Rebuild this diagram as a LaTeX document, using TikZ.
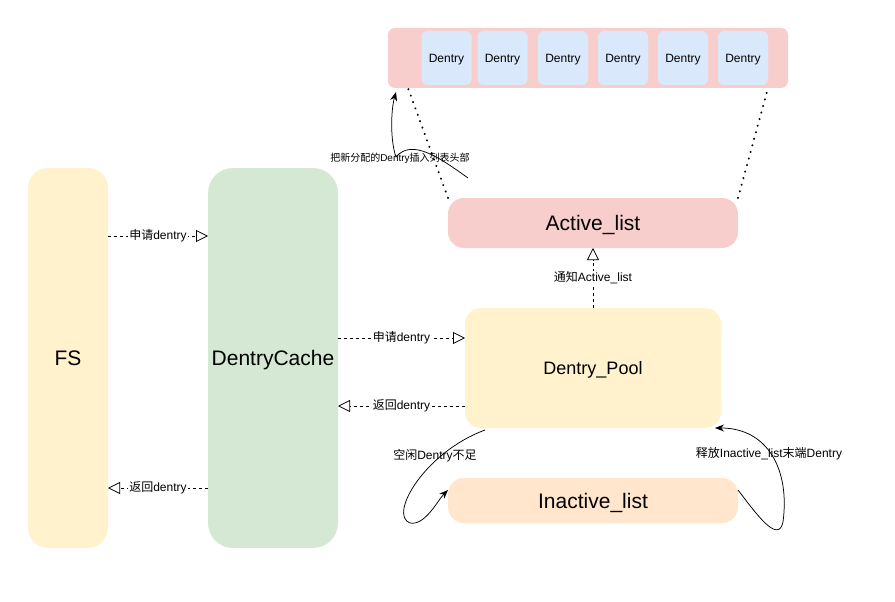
\documentclass[tikz,border=0pt]{standalone}
\usepackage{fontspec}
\setmainfont{Liberation Sans}
\newfontfamily\cjk{Noto Sans CJK SC}
\newcommand{\zh}[1]{{\cjk #1}}
\usetikzlibrary{arrows.meta}
\definecolor{redfill}{HTML}{F8CECC}
\definecolor{bluefill}{HTML}{DAE8FC}
\definecolor{yellowfill}{HTML}{FFF2CC}
\definecolor{greenfill}{HTML}{D5E8D4}
\definecolor{orangefill}{HTML}{FFE6CC}
\tikzset{
  box/.style={draw=none, inner sep=0pt, outer sep=0pt, text depth=0pt},
  bigtext/.style={font=\fontsize{21}{24}\selectfont, text height=15.5pt},
  dentrybox/.style={box, fill=bluefill, rounded corners=6pt, minimum width=50pt, minimum height=54pt, font=\fontsize{12}{14}\selectfont, text height=8.8pt},
  dasharrow/.style={draw, line width=0.75pt, dash pattern=on 3pt off 3pt, -{Triangle[open, length=12pt, width=12pt, line width=0.75pt]}},
  lbl/.style={fill=white, inner sep=1pt, font=\fontsize{12}{14}\selectfont},
  curvelbl/.style={inner sep=1pt, font=\fontsize{12}{14}\selectfont},
  curvearrow/.style={draw, line width=0.75pt, -{Stealth[length=9pt, width=7pt]}},
  dotline/.style={draw, line width=2pt, line cap=round, dash pattern=on 0.3pt off 6.5pt},
}
\begin{document}
\begin{tikzpicture}[x=1pt, y=-1pt]
\useasboundingbox (0,0) rectangle (895,602);
% top bar
\node[box, fill=redfill, rounded corners=7pt, minimum width=400pt, minimum height=60pt] (bar) at (588,58) {};
\node[dentrybox] (d1) at (446.5,58) {Dentry};
\node[dentrybox] (d2) at (502.5,58) {Dentry};
\node[dentrybox] (d3) at (563,58) {Dentry};
\node[dentrybox] (d4) at (623,58) {Dentry};
\node[dentrybox] (d5) at (683,58) {Dentry};
\node[dentrybox] (d6) at (743,58) {Dentry};
% main boxes
\node[box, bigtext, fill=yellowfill, rounded corners=20pt, minimum width=80pt, minimum height=380pt] (fs) at (68,358) {FS};
\node[box, bigtext, fill=greenfill, rounded corners=25pt, minimum width=130pt, minimum height=380pt] (dc) at (273,358) {DentryCache};
\node[box, bigtext, fill=redfill, rounded corners=16pt, minimum width=290pt, minimum height=50pt] (al) at (593,223) {Active\_list};
\node[box, fill=yellowfill, rounded corners=16pt, minimum width=256pt, minimum height=120pt, font=\fontsize{18}{21}\selectfont, text height=13.2pt] (dp) at (593,368) {Dentry\_Pool};
\node[box, bigtext, fill=orangefill, rounded corners=16pt, minimum width=290pt, minimum height=45pt] (il) at (593,500.5) {Inactive\_list};
% dashed arrows
\draw[dasharrow] (fs.east |- 0,236) -- node[lbl] {\zh{申请}dentry} (dc.west |- 0,236);
\draw[dasharrow] (dc.east |- 0,338) -- node[lbl] {\zh{申请}dentry} (dp.west |- 0,338);
\draw[dasharrow] (dp.west |- 0,406) -- node[lbl] {\zh{返回}dentry} (dc.east |- 0,406);
\draw[dasharrow] (dc.west |- 0,488) -- node[lbl] {\zh{返回}dentry} (fs.east |- 0,488);
\draw[dasharrow] (dp.north) -- node[lbl] {\zh{通知}Active\_list} (al.south);
% dotted lines
\coordinate (barl) at (408,88);
\coordinate (barr) at (768,88);
\draw[dotline] (al.north west) -- (barl);
\draw[dotline] (al.north east) -- (barr);
% curved arrows
\coordinate (cs) at (468,178);
\coordinate (ce) at (396,92);
\draw[curvearrow] (cs) .. controls (440,158) and (412,138) .. (396,157) .. controls (390,140) and (391,110) .. (ce);
\node[curvelbl, font=\fontsize{10}{12}\selectfont] (l1) at (400,158) {\zh{把新分配的}Dentry\zh{插入列表头部}};
\coordinate (ps) at (485,430);
\coordinate (ie) at (448,490);
\draw[curvearrow] (ps) .. controls (425,452) and (388,515) .. (410,523) .. controls (425,526) and (438,500) .. (ie);
\node[curvelbl] (l2) at (435,456) {\zh{空闲}Dentry\zh{不足}};
\coordinate (is) at (738,490);
\coordinate (pe) at (715,428);
\draw[curvearrow] (is) .. controls (755,512) and (778,545) .. (783,522) .. controls (790,470) and (768,428) .. (pe);
\node[curvelbl] (l3) at (769,454) {\zh{释放}Inactive\_list\zh{末端}Dentry};
\end{tikzpicture}
\end{document}
